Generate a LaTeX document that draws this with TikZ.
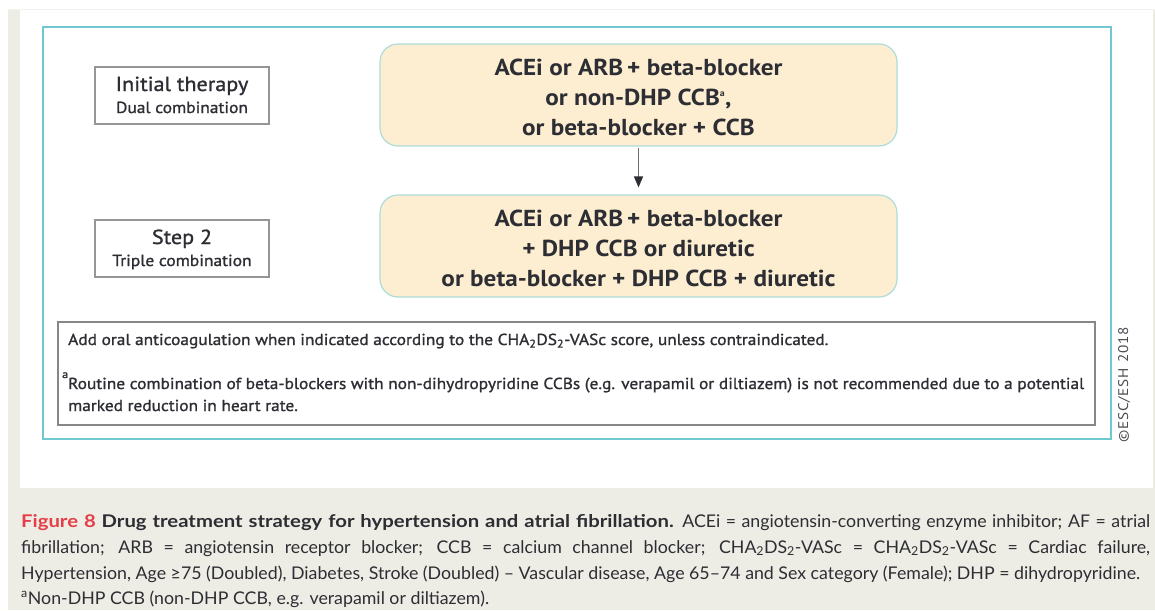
\documentclass[tikz,border=0pt]{standalone}
\usepackage{fontspec}
\setmainfont{PT Sans}[FakeStretch=1.09]
\newfontfamily\medfont{PT Sans}[FakeStretch=1.09, FakeBold=1.2]
\newfontfamily\capfont{Lato}[FakeStretch=1.015]
\newfontfamily\capbold{Lato Bold}[FakeStretch=1.16]
\usetikzlibrary{arrows.meta}
\definecolor{beige}{RGB}{238,237,229}
\definecolor{tealline}{RGB}{112,200,208}
\definecolor{orangefill}{RGB}{253,238,209}
\definecolor{orangeline}{RGB}{172,221,219}
\definecolor{boxgray}{RGB}{150,150,150}
\definecolor{notegray}{RGB}{135,135,135}
\definecolor{darktext}{RGB}{45,45,52}
\definecolor{figred}{RGB}{229,62,72}
\definecolor{arrowgray}{RGB}{110,110,115}
\tikzset{
  labelbox/.style={draw=boxgray, line width=1.3pt, fill=white, minimum width=174pt, minimum height=57pt, inner sep=0pt},
  drugbox/.style={draw=orangeline, line width=1.2pt, fill=orangefill, rounded corners=18pt, minimum width=517pt, minimum height=102pt, inner sep=0pt},
  drugtext/.style={align=center, text=darktext, font=\fontsize{23.1}{30}\selectfont\bfseries, inner sep=0pt},
  titletext/.style={text=darktext, font=\medfont\fontsize{20.3}{24}\selectfont, inner sep=0pt, anchor=base},
  subtext/.style={text=darktext, font=\medfont\fontsize{16}{20}\selectfont, inner sep=0pt, anchor=base},
  notetext/.style={text=darktext, font=\medfont\fontsize{15.9}{20}\selectfont, inner sep=0pt, anchor=base west},
  capline/.style={text=darktext, font=\capfont\fontsize{17.5}{20}\selectfont, inner sep=0pt, anchor=base west},
  flowarrow/.style={draw=arrowgray, line width=1.3pt, -{Triangle[length=11pt,width=9pt,color=darktext,fill=darktext]}, shorten >=7pt, shorten <=1pt}
}
\begin{document}
\begin{tikzpicture}[x=1pt,y=-1pt]
\useasboundingbox (0,0) rectangle (1155,610);
% backgrounds
\fill[white] (0,0) rectangle (1155,610);
\fill[beige] (8,9) rectangle (1155,610);
\fill[white] (20,9) rectangle (1153,488);
\draw[beige!70!white, line width=0.8pt] (8,9) -- (1155,9);
% outer teal frame
\draw[tealline, line width=2pt] (43,27) rectangle (1111,439);
% left labels
\node[labelbox] (l1) at (182,95.5) {};
\node[titletext] (l1a) at (182,91) {Initial therapy};
\node[subtext] (l1b) at (182,113) {Dual combination};
\node[labelbox] (l2) at (182,248.5) {};
\node[titletext] (l2a) at (182,244) {Step 2};
\node[subtext] (l2b) at (182,266) {Triple combination};
% drug boxes
\node[drugbox] (b1) at (638.5,95) {};
\node[drugtext] (t1) at (638.5,97) {ACEi or ARB\,+ beta-blocker\\or non-DHP CCB\textsuperscript{\fontsize{9}{9}\selectfont a},\\or beta-blocker + CCB};
\node[drugbox] (b2) at (638.5,246) {};
\node[drugtext] (t2) at (638.5,248) {ACEi or ARB\,+ beta-blocker\\+ DHP CCB or diuretic\\or beta-blocker + DHP CCB + diuretic};
\draw[flowarrow] (b1.south) -- (b2.north);
% note box
\node[draw=notegray, line width=1.2pt, fill=white, minimum width=1037pt, minimum height=103pt, inner sep=0pt] (nb) at (576.5,373.5) {};
\node[notetext] (n1) at (68,345) {Add oral anticoagulation when indicated according to the CHA\textsubscript{2}DS\textsubscript{2}-VASc score, unless contraindicated.};
\node[notetext, font=\medfont\fontsize{11}{12}\selectfont] (na) at (62,378) {a};
\node[notetext] (n2) at (68,389) {Routine combination of beta-blockers with non-dihydropyridine CCBs (e.g. verapamil or diltiazem) is not recommended due to a potential};
\node[notetext] (n3) at (68,411) {marked reduction in heart rate.};
% copyright
\node[rotate=90, text=darktext!85, font=\fontsize{14}{14}\selectfont\addfontfeature{LetterSpace=6}, inner sep=0pt] (cr) at (1124,385) {©ESC/ESH 2018};
% caption
\node[capline] (c1) at (21,527) {\makebox[1129pt][s]{{\capbold\textcolor{figred}{Figure 8} Drug treatment strategy for hypertension and atrial fibrillation.} ACEi = angiotensin-converting enzyme inhibitor; AF = atrial}};
\node[capline] (c2) at (21,553) {\makebox[1129pt][s]{fibrillation; ARB = angiotensin receptor blocker; CCB = calcium channel blocker; CHA\textsubscript{2}DS\textsubscript{2}-VASc = CHA\textsubscript{2}DS\textsubscript{2}-VASc = Cardiac failure,}};
\node[capline] (c3) at (21,579) {Hypertension, Age ≥75 (Doubled), Diabetes, Stroke (Doubled) – Vascular disease, Age 65–74 and Sex category (Female); DHP = dihydropyridine.};
\node[capline] (c4) at (21,604) {\textsuperscript{a}Non-DHP CCB (non-DHP CCB, e.g. verapamil or diltiazem).};
\end{tikzpicture}
\end{document}
